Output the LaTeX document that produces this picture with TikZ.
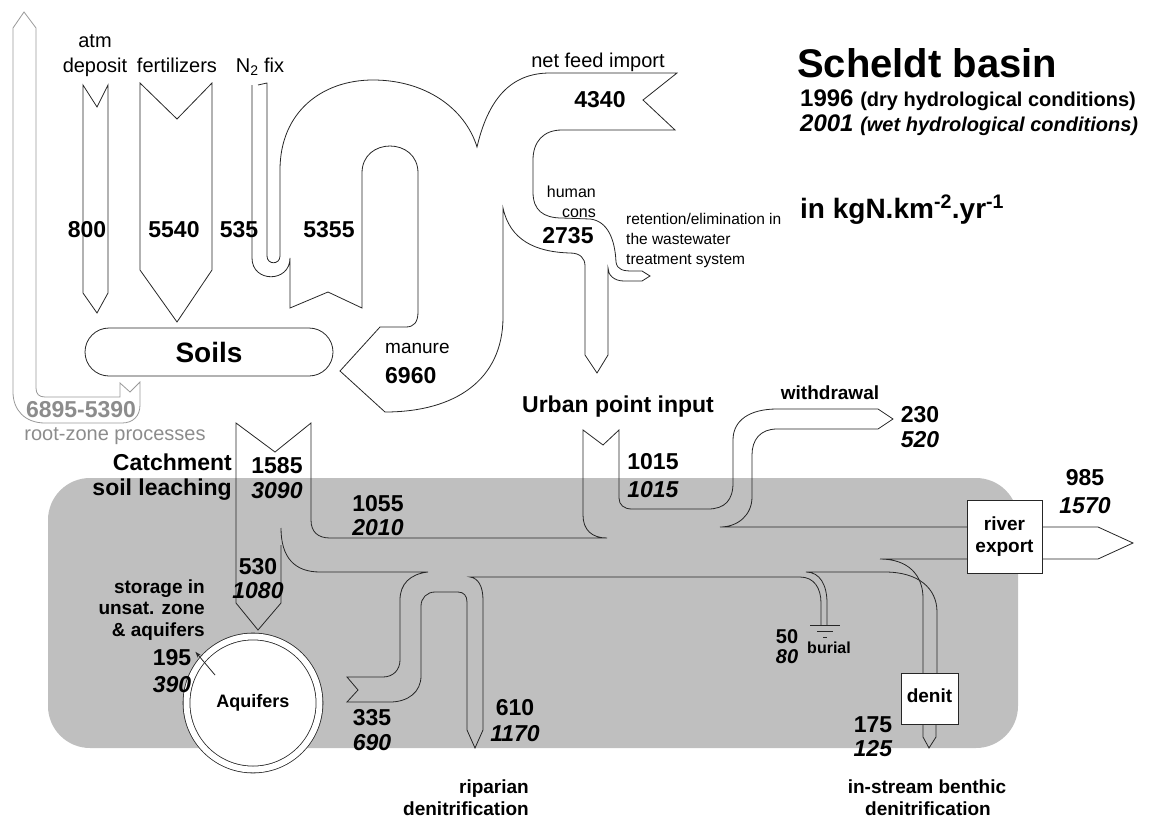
\documentclass[tikz,border=0pt]{standalone}
\usepackage{fontspec}
\setmainfont{Liberation Sans}
\usetikzlibrary{arrows.meta,calc}

\begin{document}
\begin{tikzpicture}[x=1pt, y=-1pt,
  flow/.style={draw=black!85, line width=0.8pt},
  rootflow/.style={draw=black!40, line width=0.8pt},
  box/.style={draw=black!85, line width=0.8pt, fill=white, inner sep=0pt},
  lab/.style={anchor=base, inner sep=0pt, font=\fontsize{20}{22}\selectfont},
  note/.style={anchor=base west, inner sep=0pt, font=\fontsize{15.5}{17}\selectfont},
  val/.style={anchor=base, inner sep=0pt, font=\bfseries\fontsize{23}{25}\selectfont},
  head/.style={anchor=base, inner sep=0pt, font=\bfseries\fontsize{23}{25}\selectfont},
  tag/.style={anchor=base, inner sep=0pt, font=\bfseries\fontsize{19}{21}\selectfont}]
\useasboundingbox (0,0) rectangle (1157,819);
\fill[black!25, rounded corners=42pt] (48,478) rectangle (1018,748);

\draw[rootflow] (120,383) -- (130,392) -- (140,382) -- (140,405) .. controls (140,416) and (133,423) .. (122,423) -- (45,423) .. controls (25,423) and (13,410) .. (13,392) -- (13,28) -- (24,12) -- (36,28) -- (36,388) .. controls (36,394) and (39,397) .. (45,397) -- (120,397) -- cycle;
\draw[flow] (83,85) -- (97,107) -- (108,85) -- (108,293) -- (97,313) -- (83,293) -- cycle;
\draw[flow] (140,83) -- (177,119) -- (212,83) -- (212,270) -- (177,322) -- (140,270) -- cycle;
\draw[flow] (258,85) -- (267,83) -- (267,256) .. controls (267,265) and (280,265) .. (280,256) -- (280,170)
  .. controls (280,112) and (322,80) .. (373,80) .. controls (425,80) and (465,108) .. (477,147)
  .. controls (488,100) and (510,73) .. (550,73) -- (677,73) -- (643,100) -- (675,130) -- (562,130)
  .. controls (543,130) and (533,142) .. (533,160) -- (533,192) .. controls (533,210) and (543,218) .. (562,218)
  -- (590,219) .. controls (608,221) and (615,240) .. (616,262) .. controls (617,270) and (624,271) .. (632,271)
  -- (642,271) -- (650,276) -- (642,281) -- (624,281) .. controls (614,281) and (608,275) .. (608,268)
  -- (608,355) -- (597,373) -- (585,355) -- (585,266) .. controls (585,258) and (580,253) .. (570,253)
  .. controls (535,252) and (510,240) .. (503,208) -- (503,317) .. controls (503,380) and (455,412) .. (385,412)
  -- (340,371) -- (380,327) -- (406,327) .. controls (414,327) and (418,322) .. (418,312) -- (418,173)
  .. controls (418,137) and (362,137) .. (362,173) -- (362,308) -- (328,292) -- (290,308) -- (290,258)
  .. controls (290,283) and (252,283) .. (252,258) -- (252,85);

\draw[flow] (281,545) -- (281,603) -- (258,630) -- (236,603) -- (236,423) -- (275,452) -- (311,423) -- (311,520)
  .. controls (311,532) and (318,538) .. (330,538) -- (607,538) .. controls (592,538) and (583,530) .. (583,515)
  -- (583,430) -- (603,445) -- (619,430) -- (619,498) .. controls (619,505) and (624,509) .. (632,509) -- (708,509)
  .. controls (725,509) and (733,500) .. (733,483) -- (733,440) .. controls (733,420) and (750,409) .. (777,409)
  -- (878,409) -- (893,419) -- (878,429) -- (777,429) .. controls (760,429) and (752,440) .. (752,455) -- (752,497)
  .. controls (752,515) and (738,527) .. (720,527) -- (967,527);
\draw[flow] (281,528) .. controls (281,558) and (295,572) .. (320,572) -- (428,572) .. controls (410,574) and (400,584) .. (400,600)
  -- (400,660) .. controls (400,670) and (393,677) .. (383,677) -- (347,677) -- (358,690) -- (347,702) -- (390,702)
  .. controls (408,702) and (421,692) .. (421,676) -- (421,606) .. controls (421,598) and (427,592) .. (435,592) -- (458,592)
  .. controls (464,592) and (467,596) .. (467,602) -- (467,730) -- (475,748) -- (483,730) -- (483,600)
  .. controls (483,586) and (478,578) .. (470,577) -- (800,577) .. controls (814,577) and (821,588) .. (821,603) -- (821,625);
\draw[flow] (827,625) -- (827,603) .. controls (827,585) and (820,572) .. (806,572) -- (885,572)
  .. controls (918,572) and (937,588) .. (937,612) -- (937,673);
\draw[flow] (967,559) -- (880,559) .. controls (908,559) and (923,575) .. (923,598) -- (923,673);
\draw[flow] (923,724) -- (923,737) -- (929,748) -- (936,737) -- (936,724);
\draw[flow] (810,625) -- (840,625) (817,631) -- (833,631) (823,637) -- (827,637);
\draw[flow, fill=white] (1042,527) -- (1098,527) -- (1133,543) -- (1098,559) -- (1042,559);

\node[box, rounded corners=24pt, minimum width=248pt, minimum height=48pt, font=\bfseries\fontsize{28}{30}\selectfont] (soils) at (209,352) {Soils};
\node[box, minimum width=75pt, minimum height=73pt, align=center, font=\bfseries\fontsize{19}{22}\selectfont] (river) at (1004.5,536.5) {river\\export};
\node[box, minimum width=57pt, minimum height=51pt, font=\bfseries\fontsize{19}{21}\selectfont] (denit) at (929.5,698.5) {\raisebox{5pt}{denit}};
\node[box, circle, double=white, double distance=6pt, minimum size=133pt, font=\bfseries\fontsize{18}{20}\selectfont] (aquifers) at (253,703) {\raisebox{-6pt}{Aquifers}};

\node[lab] (atm) at (95,47) {atm};
\node[lab] (deposit) at (95,72) {deposit};
\node[lab] (fert) at (177,72) {fertilizers};
\node[lab] (nfix) at (260,72) {N\textsubscript{2} fix};
\node[lab] (feed) at (598,67) {net feed import};
\node[lab, anchor=base west, font=\fontsize{19}{21}\selectfont] (manure) at (385,353) {manure};
\node[note, anchor=base east, font=\fontsize{16}{18}\selectfont] (human) at (596,197) {human};
\node[note, anchor=base east, font=\fontsize{16}{18}\selectfont] (cons) at (596,217) {cons};
\node[note] (ret1) at (626,224) {retention/elimination in};
\node[note] (ret2) at (626,244) {the wastewater};
\node[note] (ret3) at (626,264) {treatment system};

\node[val] (n800) at (87,237) {800};
\node[val] (n5540) at (174,237) {5540};
\node[val] (n535) at (239,237) {535};
\node[val] (n5355) at (329,237) {5355};
\node[val] (n4340) at (600,107) {4340};
\node[val] (n2735) at (568,243) {2735};
\node[val, anchor=base west] (n6960) at (385,383) {6960};
\node[val, text=black!45] (rootval) at (81,417) {6895-5390};
\node[lab, text=black!45] (rootlbl) at (115,440) {root-zone processes};

\foreach \nm/\x/\y/\dy/\dry/\wet in {v1585/277/473/25/1585/3090, v1055/378/511/24/1055/2010, v530/258/574/24/530/1080,
  v1015/653/469/28/1015/1015, v230/920/422/25/230/520, v985/1085/485/28/985/1570, v195/172/665/27/195/390,
  v335/372/725/25/335/690, v610/515/715/26/610/1170, v175/873/732/24/175/125}
{
  \node[val] (\nm-dry) at (\x,\y) {\dry};
  \node[val] (\nm-wet) at (\x,\y+\dy) {\textit{\wet}};
}
\node[val, font=\bfseries\fontsize{20}{22}\selectfont] (v50-dry) at (787,643) {50};
\node[val, font=\bfseries\fontsize{20}{22}\selectfont] (v50-wet) at (787,663) {\textit{80}};

\node[head, anchor=base east] (catch1) at (232,470) {Catchment};
\node[head, anchor=base east] (catch2) at (232,495) {soil leaching};
\node[head] (urban) at (618,412) {Urban point input};
\node[tag] (withdr) at (830,399) {withdrawal};
\node[tag, font=\bfseries\fontsize{16}{18}\selectfont] (burial) at (829,653) {burial};
\node[tag, anchor=base east] (stor1) at (205,593) {storage in};
\node[tag, anchor=base east] (stor2) at (205,614) {unsat. zone};
\node[tag, anchor=base east] (stor3) at (205,636) {\& aquifers};
\node[tag, anchor=base east] (ripa1) at (529,793) {riparian};
\node[tag, anchor=base east] (ripa2) at (529,815) {denitrification};
\node[tag] (bent1) at (927,793) {in-stream benthic};
\node[tag] (bent2) at (928,815) {denitrification};
\draw[flow, -{Stealth[length=6pt, width=4pt]}] ($(aquifers.center)+(-38,-28)$) -- ($(v195-dry.north east)+(4,3)$);

\node[anchor=base west, inner sep=0pt, font=\bfseries\fontsize{40}{42}\selectfont] (title) at (797,77) {Scheldt basin};
\node[anchor=base west, inner sep=0pt, font=\bfseries] (dry) at (800,106) {\fontsize{24}{26}\selectfont 1996 \fontsize{20}{22}\selectfont(dry hydrological conditions)};
\node[anchor=base west, inner sep=0pt, font=\bfseries\itshape] (wet) at (800,131) {\fontsize{24}{26}\selectfont 2001 \fontsize{20}{22}\selectfont(wet hydrological conditions)};
\node[anchor=base west, inner sep=0pt, font=\bfseries\fontsize{28}{30}\selectfont] (units) at (800,218) {in kgN.km\textsuperscript{-2}.yr\textsuperscript{-1}};
\end{tikzpicture}
\end{document}
